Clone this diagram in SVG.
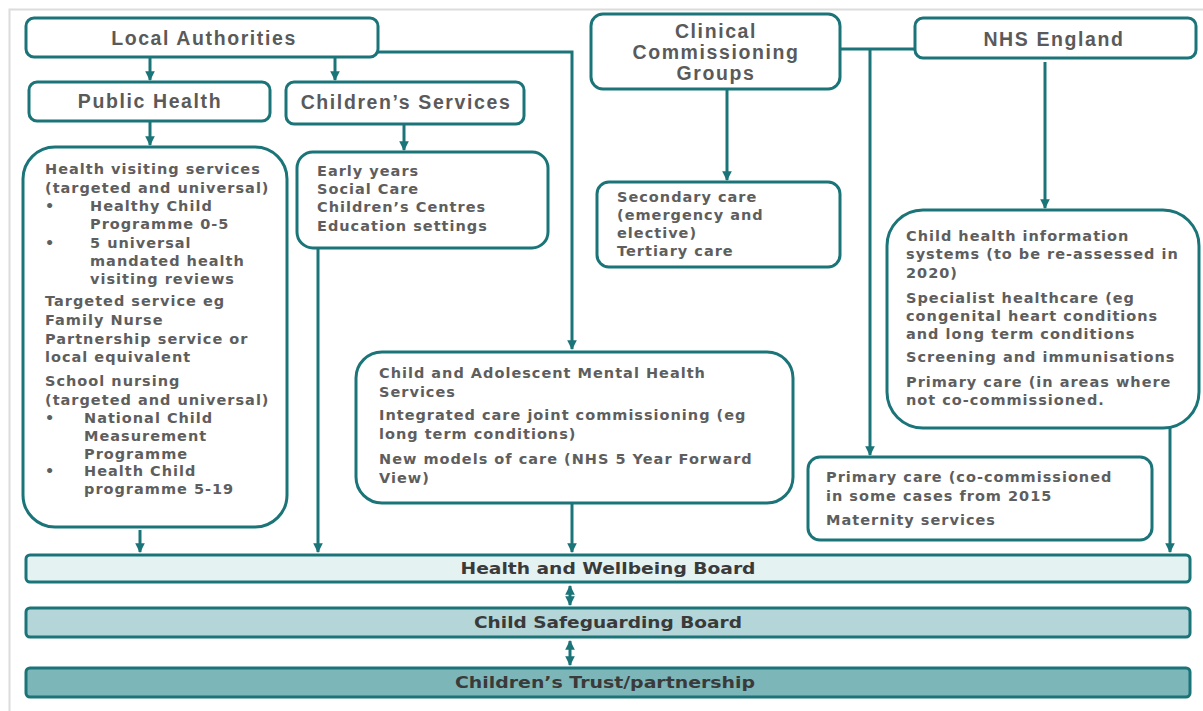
<svg xmlns="http://www.w3.org/2000/svg" width="1203" height="711" viewBox="0 0 1203 711">
<defs>
<marker id="ah" viewBox="0 0 10 10" refX="9" refY="5" markerWidth="3.2" markerHeight="3.2" orient="auto-start-reverse" markerUnits="strokeWidth">
<path d="M0,0 L10,5 L0,10 Z" fill="#1b7478"/>
</marker>
<style>
.box{fill:#fff;stroke:#1b7478;stroke-width:3}
.bar{stroke:#1b7478;stroke-width:3}
.c{fill:none;stroke:#1b7478;stroke-width:3}
.h{font-family:"Liberation Sans",Arial,sans-serif;font-weight:bold;font-size:19.5px;fill:#5a5a5a;text-anchor:middle;letter-spacing:1.6px}
.t{font-family:"DejaVu Sans",sans-serif;font-weight:bold;font-size:14.5px;fill:#5e5e5e;letter-spacing:1px}
.b{font-family:"DejaVu Sans","Liberation Sans",sans-serif;font-weight:bold;font-size:15px;fill:#3a3a3a;text-anchor:middle}
</style>
</defs>
<rect width="1203" height="711" fill="#fff"/>
<path d="M9.5,711 V9.5 H1203" fill="none" stroke="#dcdcdc" stroke-width="2"/>

<g id="connectors">
<path class="c" d="M150,57 V80" marker-end="url(#ah)"/>
<path class="c" d="M335,57 V80" marker-end="url(#ah)"/>
<path class="c" d="M378,52 H572 V349" marker-end="url(#ah)"/>
<path class="c" d="M150,121 V145" marker-end="url(#ah)"/>
<path class="c" d="M404,124 V150" marker-end="url(#ah)"/>
<path class="c" d="M318,248 V552" marker-end="url(#ah)"/>
<path class="c" d="M140,530 V552" marker-end="url(#ah)"/>
<path class="c" d="M572,503 V552" marker-end="url(#ah)"/>
<path class="c" d="M727,89 V180" marker-end="url(#ah)"/>
<path class="c" d="M840,49 H915"/>
<path class="c" d="M870,49 V455" marker-end="url(#ah)"/>
<path class="c" d="M1045,62 V208" marker-end="url(#ah)"/>
<path class="c" d="M1170,428 V552" marker-end="url(#ah)"/>
<path class="c" d="M570,586 V605" marker-start="url(#ah)" marker-end="url(#ah)"/>
<path class="c" d="M570,641 V665" marker-start="url(#ah)" marker-end="url(#ah)"/>
</g>

<g id="local-authorities">
<rect class="box" x="26" y="18" width="352" height="39" rx="8"/>
<text class="h" x="204" y="45">Local Authorities</text>
</g>
<g id="public-health">
<rect class="box" x="29" y="82" width="241" height="39" rx="8"/>
<text class="h" x="150" y="108">Public Health</text>
</g>
<g id="childrens-services">
<rect class="box" x="286" y="82" width="238" height="42" rx="8"/>
<text class="h" x="406" y="109">Children’s Services</text>
</g>
<g id="ccg">
<rect class="box" x="591" y="14" width="249" height="75" rx="12"/>
<text class="h" x="716" y="38">Clinical</text>
<text class="h" x="716" y="59">Commissioning</text>
<text class="h" x="716" y="80">Groups</text>
</g>
<g id="nhs-england">
<rect class="box" x="915" y="18" width="281" height="40" rx="8"/>
<text class="h" x="1054" y="46">NHS England</text>
</g>

<g id="public-health-services">
<rect class="box" x="23" y="147" width="264" height="380" rx="32"/>
<text class="t" x="45" y="174">Health visiting services</text>
<text class="t" x="45" y="193">(targeted and universal)</text>
<text class="t" x="45" y="211">•</text>
<text class="t" x="90" y="211">Healthy Child</text>
<text class="t" x="90" y="229">Programme 0-5</text>
<text class="t" x="45" y="248">•</text>
<text class="t" x="90" y="248">5 universal</text>
<text class="t" x="90" y="266">mandated health</text>
<text class="t" x="90" y="284">visiting reviews</text>
<text class="t" x="45" y="306">Targeted service eg</text>
<text class="t" x="45" y="325">Family  Nurse</text>
<text class="t" x="45" y="344">Partnership service or</text>
<text class="t" x="45" y="362">local equivalent</text>
<text class="t" x="45" y="386">School nursing</text>
<text class="t" x="45" y="405">(targeted and universal)</text>
<text class="t" x="45" y="423">•</text>
<text class="t" x="84" y="423">National Child</text>
<text class="t" x="84" y="441">Measurement</text>
<text class="t" x="84" y="459">Programme</text>
<text class="t" x="45" y="476">•</text>
<text class="t" x="84" y="476">Health Child</text>
<text class="t" x="84" y="494">programme 5-19</text>
</g>

<g id="childrens-services-list">
<rect class="box" x="297" y="152" width="251" height="96" rx="16"/>
<text class="t" x="317" y="176">Early  years</text>
<text class="t" x="317" y="194">Social  Care</text>
<text class="t" x="317" y="212">Children’s Centres</text>
<text class="t" x="317" y="231">Education settings</text>
</g>

<g id="secondary-care">
<rect class="box" x="597" y="182" width="243" height="85" rx="12"/>
<text class="t" x="617" y="202">Secondary care</text>
<text class="t" x="617" y="220">(emergency and</text>
<text class="t" x="617" y="238">elective)</text>
<text class="t" x="617" y="256">Tertiary care</text>
</g>

<g id="camhs">
<rect class="box" x="356" y="352" width="437" height="151" rx="26"/>
<text class="t" x="379" y="378">Child and Adolescent Mental Health</text>
<text class="t" x="379" y="397">Services</text>
<text class="t" x="379" y="420">Integrated care joint commissioning (eg</text>
<text class="t" x="379" y="439">long term conditions)</text>
<text class="t" x="379" y="464">New models of care (NHS 5 Year Forward</text>
<text class="t" x="379" y="483">View)</text>
</g>

<g id="nhs-services">
<rect class="box" x="887" y="210" width="312" height="218" rx="36"/>
<text class="t" x="906" y="241">Child health information</text>
<text class="t" x="906" y="259">systems  (to be re-assessed in</text>
<text class="t" x="906" y="278">2020)</text>
<text class="t" x="906" y="303">Specialist  healthcare (eg</text>
<text class="t" x="906" y="321">congenital heart conditions</text>
<text class="t" x="906" y="339">and long term conditions</text>
<text class="t" x="906" y="362">Screening and immunisations</text>
<text class="t" x="906" y="387">Primary  care (in areas where</text>
<text class="t" x="906" y="405">not co-commissioned.</text>
</g>

<g id="primary-care">
<rect class="box" x="808" y="457" width="344" height="83" rx="12"/>
<text class="t" x="826" y="482">Primary  care (co-commissioned</text>
<text class="t" x="826" y="501">in some cases  from 2015</text>
<text class="t" x="826" y="525">Maternity services</text>
</g>

<g id="health-wellbeing-board">
<rect class="bar" x="26" y="555" width="1164" height="27" rx="4" fill="#e5f2f2"/>
<text class="b" x="608" y="574" textLength="295" lengthAdjust="spacingAndGlyphs">Health and Wellbeing Board</text>
</g>
<g id="child-safeguarding-board">
<rect class="bar" x="26" y="608" width="1164" height="29" rx="4" fill="#b4d6d8"/>
<text class="b" x="608" y="628" textLength="268" lengthAdjust="spacingAndGlyphs">Child Safeguarding Board</text>
</g>
<g id="childrens-trust">
<rect class="bar" x="26" y="668" width="1164" height="29" rx="4" fill="#7db6b9"/>
<text class="b" x="605" y="688" textLength="300" lengthAdjust="spacingAndGlyphs">Children’s Trust/partnership</text>
</g>
</svg>
